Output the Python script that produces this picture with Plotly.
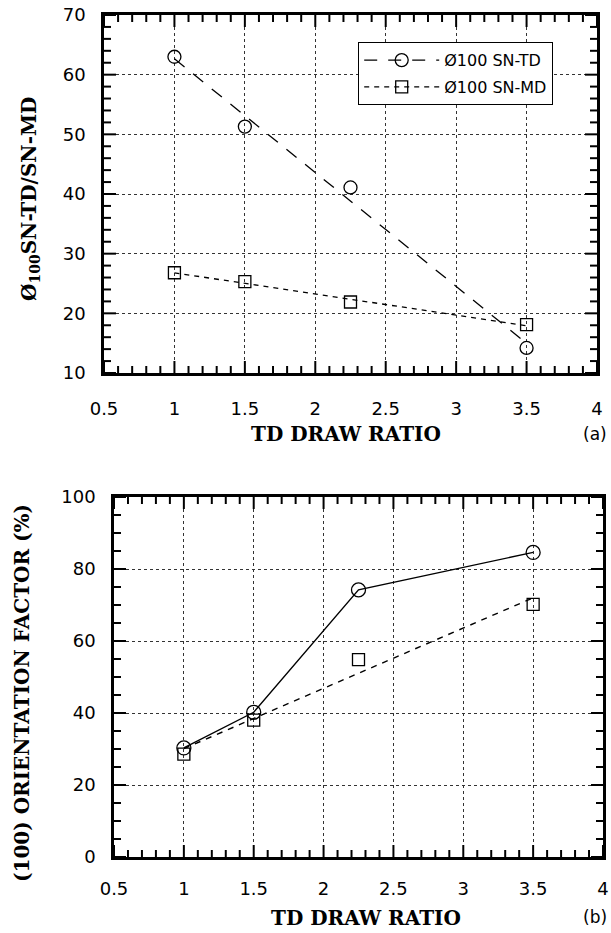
import numpy as np
import plotly.graph_objects as go

# TD draw ratios of the four films
draw_ratio = [1.0, 1.5, 2.25, 3.5]

# (a) phi_100 angles, SN-TD and SN-MD
phi_sn_td = [63.0, 51.3, 41.1, 14.2]
phi_sn_md = [26.8, 25.3, 21.9, 18.1]

# (b) (100) orientation factor, %
orient_sn_td = [30.3, 40.2, 74.2, 84.6]
orient_sn_md = [28.6, 38.0, 54.8, 70.2]

legend_names = ["Ø100 SN-TD", "Ø100 SN-MD"]
x_ticks = [0.5, 1, 1.5, 2, 2.5, 3, 3.5, 4]

W, H = 611, 933
MAJOR_LEN, MINOR_LEN = 12, 7


def px_x(v):
    return v / W


def px_y(v):
    return 1 - v / H


def linear_fit(x, y, x_new):
    slope, icpt = np.polyfit(x, y, 1)
    return [slope * xv + icpt for xv in x_new]


fig = go.Figure()

# ---- panel (a): markers + least-squares lines ----
fit_x = [draw_ratio[0], draw_ratio[-1]]
fig.add_trace(go.Scatter(
    x=fit_x, y=linear_fit(draw_ratio, phi_sn_td, fit_x), mode="lines",
    line=dict(color="black", width=1.3, dash="13px,11px"),
    showlegend=False, hoverinfo="skip", xaxis="x", yaxis="y"))
fig.add_trace(go.Scatter(
    x=fit_x, y=linear_fit(draw_ratio, phi_sn_md, fit_x), mode="lines",
    line=dict(color="black", width=1.3, dash="5px,5px"),
    showlegend=False, hoverinfo="skip", xaxis="x", yaxis="y"))
fig.add_trace(go.Scatter(
    x=draw_ratio, y=phi_sn_td, mode="markers", name=legend_names[0],
    marker=dict(symbol="circle-open", size=13, color="black", line=dict(width=1.3)),
    showlegend=False, xaxis="x", yaxis="y"))
fig.add_trace(go.Scatter(
    x=draw_ratio, y=phi_sn_md, mode="markers", name=legend_names[1],
    marker=dict(symbol="square-open", size=12, color="black", line=dict(width=1.3)),
    showlegend=False, xaxis="x", yaxis="y"))

# legend-only entries (line + marker sample)
fig.add_trace(go.Scatter(
    x=[None], y=[None], mode="lines+markers", name=legend_names[0],
    line=dict(color="black", width=1.3, dash="13px,11px"),
    marker=dict(symbol="circle-open", size=13, color="black", line=dict(width=1.3)),
    legendgroup="g1", xaxis="x", yaxis="y"))
fig.add_trace(go.Scatter(
    x=[None], y=[None], mode="lines+markers", name=legend_names[1],
    line=dict(color="black", width=1.3, dash="5px,5px"),
    marker=dict(symbol="square-open", size=12, color="black", line=dict(width=1.3)),
    legendgroup="g2", xaxis="x", yaxis="y"))

# ---- panel (b) ----
fig.add_trace(go.Scatter(
    x=draw_ratio, y=orient_sn_td, mode="lines+markers",
    line=dict(color="black", width=1.4),
    marker=dict(symbol="circle-open", size=14, color="black", line=dict(width=1.3)),
    showlegend=False, xaxis="x2", yaxis="y2"))
fig.add_trace(go.Scatter(
    x=fit_x, y=linear_fit(draw_ratio, orient_sn_md, fit_x), mode="lines",
    line=dict(color="black", width=1.4, dash="6px,6px"),
    showlegend=False, hoverinfo="skip", xaxis="x2", yaxis="y2"))
fig.add_trace(go.Scatter(
    x=draw_ratio, y=orient_sn_md, mode="markers",
    marker=dict(symbol="square-open", size=12, color="black", line=dict(width=1.3)),
    showlegend=False, xaxis="x2", yaxis="y2"))

tick_font = dict(family="DejaVu Sans", size=18, color="black")


def axis_style(dtick, rng, domain, anchor, standoff):
    return dict(
        range=rng, domain=domain, anchor=anchor, dtick=dtick, tick0=rng[0],
        showline=True, linewidth=2.5, linecolor="black", mirror=True, ticks="",
        showgrid=True, gridcolor="#333", griddash="dot", gridwidth=1,
        zeroline=False, tickfont=tick_font, automargin=False,
        ticklabelstandoff=standoff,
    )


def tick_shapes(xref, yref, xr, yr, x_major, x_minor, y_major, y_minor):
    """Inward major and minor tick marks on all four sides of a panel."""
    shapes = []
    line = dict(color="black", width=2)
    for step, ln in ((x_major, MAJOR_LEN), (x_minor, MINOR_LEN)):
        for v in np.arange(xr[0], xr[1] + 1e-9, step):
            v = round(float(v), 6)
            if ln == MINOR_LEN and abs(v / x_major - round(v / x_major)) < 1e-6:
                continue
            for anchor, sign in ((yr[0], 1), (yr[1], -1)):
                shapes.append(dict(type="line", xref=xref, yref=yref, x0=v, x1=v,
                                   ysizemode="pixel", yanchor=anchor, y0=0,
                                   y1=sign * ln, line=line, layer="above"))
    for step, ln in ((y_major, MAJOR_LEN), (y_minor, MINOR_LEN)):
        for v in np.arange(yr[0], yr[1] + 1e-9, step):
            v = round(float(v), 6)
            if ln == MINOR_LEN and abs(v / y_major - round(v / y_major)) < 1e-6:
                continue
            for anchor, sign in ((xr[0], 1), (xr[1], -1)):
                shapes.append(dict(type="line", xref=xref, yref=yref, y0=v, y1=v,
                                   xsizemode="pixel", xanchor=anchor, x0=0,
                                   x1=sign * ln, line=line, layer="above"))
    return shapes


xa_dom = [px_x(104), px_x(597)]
ya_dom = [px_y(373), px_y(15)]
xb_dom = [px_x(114), px_x(603)]
yb_dom = [px_y(857), px_y(497)]

fig.update_layout(
    width=W, height=H,
    margin=dict(l=0, r=0, t=0, b=0, autoexpand=False),
    paper_bgcolor="white", plot_bgcolor="white",
    xaxis=axis_style(0.5, [0.5, 4], xa_dom, "y", 18),
    yaxis=axis_style(10, [10, 70], ya_dom, "x", 12),
    xaxis2=axis_style(0.5, [0.5, 4], xb_dom, "y2", 14),
    yaxis2=axis_style(20, [0, 100], yb_dom, "x2", 12),
    shapes=(tick_shapes("x", "y", [0.5, 4], [10, 70], 0.5, 0.1, 10, 2)
            + tick_shapes("x2", "y2", [0.5, 4], [0, 100], 0.5, 0.1, 20, 5)),
    legend=dict(
        x=px_x(358), y=px_y(42), xanchor="left", yanchor="top",
        bordercolor="black", borderwidth=1.2, bgcolor="white",
        font=dict(family="DejaVu Sans", size=16, color="black"),
        itemwidth=75, tracegroupgap=3, traceorder="grouped",
    ),
)
fig.update_layout(xaxis=dict(tickvals=x_ticks, ticktext=[f"{v:g}" for v in x_ticks]),
                  xaxis2=dict(tickvals=x_ticks, ticktext=[f"{v:g}" for v in x_ticks]))

title_font = dict(family="DejaVu Serif", size=20, color="black")
label_font = dict(family="DejaVu Sans", size=17, color="black")
annotations = [
    dict(text="<b>TD DRAW RATIO</b>", x=px_x(346), y=px_y(434), font=title_font,
         xanchor="center"),
    dict(text="<b>TD DRAW RATIO</b>", x=px_x(366), y=px_y(918), font=title_font,
         xanchor="center"),
    dict(text="<b>Ø<sub>100</sub>SN-TD/SN-MD</b>", x=px_x(30), y=px_y(199),
         textangle=-90, font=title_font, xanchor="center"),
    dict(text="<b>(100) ORIENTATION FACTOR (%)</b>", x=px_x(22), y=px_y(693),
         textangle=-90, font=title_font, xanchor="center"),
    dict(text="(a)", x=px_x(609), y=px_y(434), font=label_font, xanchor="right"),
    dict(text="(b)", x=px_x(609), y=px_y(917), font=label_font, xanchor="right"),
]
for a in annotations:
    fig.add_annotation(xref="paper", yref="paper", showarrow=False,
                       yanchor="middle", **a)

fig.write_html("out.html")
